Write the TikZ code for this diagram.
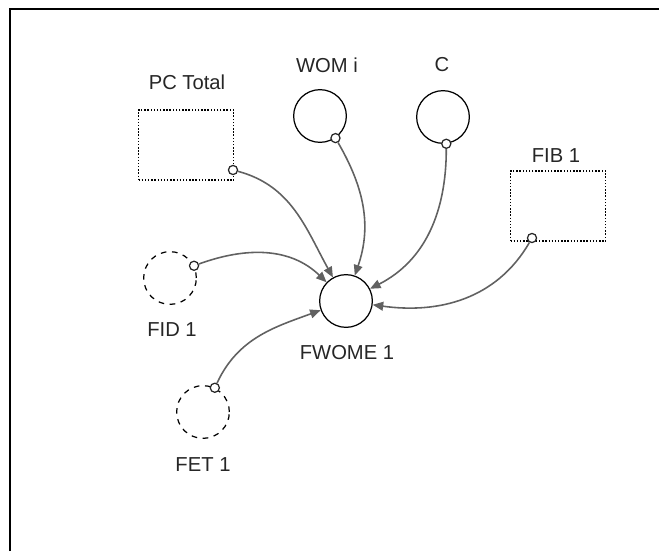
\documentclass[tikz,border=0pt]{standalone}
\usepackage{fontspec}
\setmainfont{Liberation Sans}
\usetikzlibrary{arrows.meta, shapes.geometric}
\tikzset{
    font=\fontsize{11.5}{13}\selectfont,
    >={Triangle[length=6pt, width=5pt]},
    % Shapes
    stock/.style={rectangle, draw=black, line width=0.8pt, dash pattern=on 0.8pt off 1pt,
                  minimum width=54pt, minimum height=40pt},
    conv/.style={circle, draw=black, line width=0.7pt, minimum size=30pt, inner sep=0pt},
    ghost/.style={conv, dash pattern=on 3.2pt off 3.2pt},
    plug/.style={circle, draw=black!85, fill=white, line width=0.7pt, minimum size=5.2pt, inner sep=0pt},
    % Flow & Labels
    link/.style={->, line width=0.9pt, draw=black!62},
    lbl/.style={inner sep=1pt, text=black!85}
}

\begin{document}
\begin{tikzpicture}[x=0.02cm, y=-0.02cm]
\useasboundingbox (0,0) rectangle (659,551);

% Frame
\draw[line width=1.2pt] (10,551) -- (10,9) -- (659,9);

% Nodes
\node[stock] (pctotal) at (186,145) {};
\node[conv] (womi) at (320,116) {};
\node[conv] (c) at (443,117) {};
\node[stock] (fib) at (558,206) {};
\node[ghost] (fid) at (170,278) {};
\node[conv] (fwome) at (346,301) {};
\node[ghost] (fet) at (203,412) {};

% Labels
\node[lbl] (pctotal-l) at (187,82) {PC Total};
\node[lbl] (womi-l) at (327,65) {WOM i};
\node[lbl] (c-l) at (442,65) {C};
\node[lbl] (fib-l) at (556,156) {FIB 1};
\node[lbl] (fid-l) at (172,330) {FID 1};
\node[lbl] (fwome-l) at (347,353) {FWOME 1};
\node[lbl] (fet-l) at (203,465) {FET 1};

% Connector plugs
\node[plug] (pctotal-o) at (233,170) {};
\node[plug] (womi-o) at (womi.-55) {};
\node[plug] (c-o) at (c.-83) {};
\node[plug] (fib-o) at (532,238) {};
\node[plug] (fid-o) at (fid.27) {};
\node[plug] (fet-o) at (fet.64) {};

% Arrows
\draw[link] (pctotal-o) to[out=-15, in=119] (fwome);
\draw[link] (womi-o) to[out=-60, in=71] (fwome);
\draw[link] (c-o) to[out=-90, in=27] (fwome);
\draw[link] (fib-o) to[out=-120, in=-8] (fwome);
\draw[link] (fid-o) to[out=20, in=136] (fwome);
\draw[link] (fet-o) to[out=65, in=200] (fwome);

\end{tikzpicture}
\end{document}
